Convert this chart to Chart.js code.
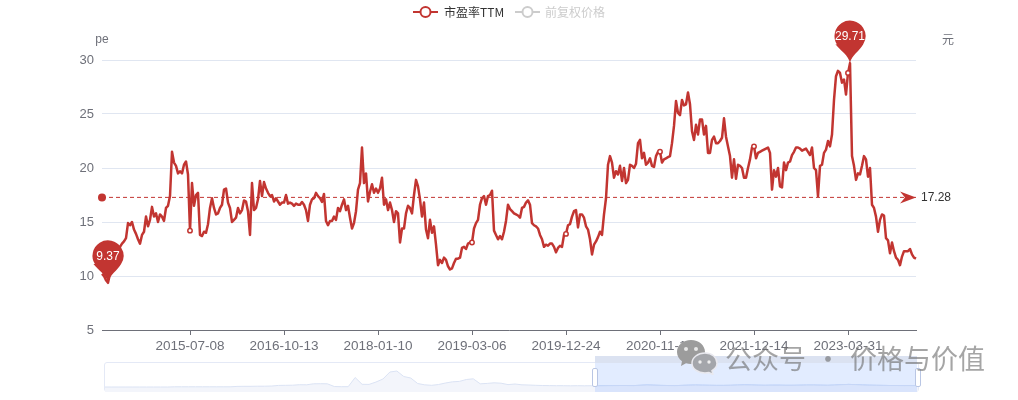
<!DOCTYPE html>
<html><head><meta charset="utf-8">
<style>
html,body{margin:0;padding:0;background:#fff;width:1018px;height:400px;overflow:hidden}
#wrap{position:relative;width:1018px;height:400px}
#main{position:absolute;left:0;top:0}
#frame{position:absolute;left:105px;top:363px;width:813px;height:28px;border:1.5px solid #e4e9f6;border-radius:3px;box-sizing:content-box;margin:-1px 0 0 -1px}
#mini{position:absolute;left:105px;top:363px}
#selBar{position:absolute;left:595px;top:356px;width:322px;height:7px;background:#dbe2f1}
#sel{position:absolute;left:595px;top:363px;width:322px;height:29px;background:rgba(135,175,255,.24)}
.h{position:absolute;top:368px;width:6px;height:19px;background:#fff;border:1.2px solid #b9c6e4;border-radius:2px;box-sizing:border-box}
#wmText{position:absolute;left:725px;top:339px;font:27px/38px "Noto Sans CJK SC",sans-serif;color:rgba(110,110,110,.62);white-space:pre;word-spacing:2.5px}
#wmIcon{position:absolute;left:676px;top:339px}
</style></head>
<body><div id="wrap">
<canvas id="main" width="1018" height="400"></canvas>
<div id="frame"></div>
<canvas id="mini" width="813" height="29"></canvas>
<div id="selBar"></div><div id="sel"></div>
<div class="h" style="left:592px"></div><div class="h" style="left:915px"></div>
<svg id="wmIcon" width="44" height="36" viewBox="0 0 44 36">
<path d="M15 1C7 1 1 6.500 1 13c0 4 2 7 5 9.200L5 27l5-2.700c1.600.5 3.300.7 5 .7 8 0 14-5.500 14-12S23 1 15 1z" fill="#9c9c9c"/>
<circle cx="10" cy="10" r="2" fill="#e8e8e8"/><circle cx="20" cy="10" r="2" fill="#e8e8e8"/>
<path d="M29 14c-7.200 0-13 4.600-13 10.200S21.800 34 29 34c1.400 0 2.800-.2 4-.5l4 2-1-3.800c3-1.900 5-4.500 5-7.500C41 18.600 36.200 14 29 14z" fill="#a4a6ab" stroke="#e9e9ef" stroke-width="1.500"/>
<circle cx="24" cy="23" r="1.700" fill="#eee"/><circle cx="33" cy="23" r="1.700" fill="#eee"/>
</svg>
<div id="wmText">公众号 · 价格与价值</div>
</div>
<script src="https://cdn.jsdelivr.net/npm/chart.js@4"></script>
<script>
const tickLabels=['2015-07-08','2016-10-13','2018-01-10','2019-03-06','2019-12-24','2020-11-12','2021-12-14','2023-03-31'];
const tickPositions=[44,91,138,185,232,279,326,373];
const circleMarks=[44,185,232,279,326,373];
const yTicks=[5,10,15,20,25,30];
const seriesNames=['市盈率TTM','前复权价格'];
const avgName='平均值';
const avgValue=17.28;
const peValues=[
10.2,10.0,9.6,9.37,10.2,10.8,11.4,11.9,12.3,12.7,
13.0,13.2,13.5,14.9,14.7,15.0,14.3,13.9,13.4,13.0,
13.8,14.1,15.5,14.6,15.2,16.4,15.5,15.8,15.0,15.7,
15.5,15.1,16.3,16.5,17.4,21.5,20.5,20.2,19.5,19.7,
19.5,20.3,20.6,19.4,14.2,18.6,16.5,17.5,17.7,13.8,
13.7,14.1,14.0,14.8,16.3,17.2,16.3,15.7,15.8,16.3,
16.6,18.0,18.1,16.8,16.3,15.0,15.2,15.4,16.3,15.8,
16.1,17.0,16.9,16.0,13.8,18.6,16.1,16.3,17.1,18.8,
17.4,18.7,18.1,17.7,17.4,17.5,16.9,17.2,16.9,16.6,
16.8,16.8,17.5,16.7,16.8,16.7,16.5,16.7,16.6,16.6,
16.85,16.6,16.1,15.1,16.6,17.1,17.2,17.7,17.4,17.2,
16.85,17.6,15.1,14.7,15.1,15.1,15.5,15.2,16.3,16.0,
16.6,17.1,16.1,16.5,15.4,14.4,14.9,16.0,18.0,18.6,
21.9,18.6,19.5,16.9,17.8,18.5,17.7,18.1,17.7,18.1,
19.1,16.6,17.1,16.1,16.8,16.1,15.0,16.0,15.8,13.1,
14.4,14.4,15.8,16.5,16.3,15.8,17.5,18.9,18.3,17.1,
15.5,16.8,14.3,13.5,15.2,14.0,14.6,12.9,11.0,11.5,
11.2,11.7,11.5,10.9,10.6,10.7,11.2,11.6,11.6,11.7,
12.6,12.7,12.5,13.0,13.1,13.1,14.4,14.9,15.2,16.6,
17.2,17.4,16.6,17.4,17.5,17.9,14.2,13.8,13.4,13.7,
13.4,14.1,15.1,16.6,16.2,16.0,15.8,15.7,15.6,15.4,
16.3,16.4,16.8,17.0,16.6,14.9,14.7,14.6,14.4,13.8,
13.4,12.7,12.9,12.8,13.0,13.0,12.7,12.2,12.6,12.8,
12.7,13.8,13.9,14.7,14.8,15.5,16.0,16.1,14.5,15.7,
15.7,15.4,14.6,14.3,13.4,12.0,12.9,13.2,13.6,14.1,
13.8,15.7,17.2,20.3,21.1,20.5,19.1,19.7,19.4,20.2,
18.8,20.0,18.6,18.9,20.3,20.2,20.0,20.4,22.3,22.6,
20.9,21.4,20.3,20.5,20.9,20.2,20.1,21.1,21.5,21.5,
20.5,20.8,20.9,21.0,21.1,22.3,23.9,26.2,25.1,24.9,
26.3,25.8,25.9,27.0,25.9,23.4,22.6,24.0,23.1,24.5,
24.5,23.1,23.9,21.4,21.4,22.6,22.9,22.3,22.3,22.5,
22.8,24.6,22.9,22.0,21.1,19.1,20.8,19.0,20.3,20.2,
20.0,19.1,19.1,20.0,20.8,21.9,22.0,20.9,21.4,21.5,
21.6,21.7,21.8,21.9,21.4,18.0,19.8,19.2,20.0,18.3,
18.2,20.5,19.8,20.5,20.6,21.2,21.5,21.9,21.9,21.8,
21.6,21.7,21.8,21.5,21.2,21.9,20.0,19.8,17.4,20.2,
20.3,21.4,21.7,22.5,22.0,23.1,26.3,28.5,29.0,28.8,
27.9,28.2,26.8,28.8,29.71,21.1,20.2,18.9,19.5,19.4,
20.2,21.1,20.8,19.2,20.0,16.6,16.3,15.5,14.1,15.2,
15.7,15.6,13.5,13.3,12.1,13.1,12.3,11.7,11.5,11.0,
11.8,12.3,12.3,12.3,12.5,12.0,11.7,11.6];
const overviewValues=[
5,5,5,5,5,5,5,5,5,5,
5.2,5.2,5.2,5.2,5.2,5.2,5.2,5.2,5.2,5.6,
5.7,5.7,5.8,5.8,6,6.6,6.7,6.8,7.3,7.2,
8.2,8.3,8.2,5.5,5.3,5.3,14.5,7.7,7.6,10,
13,20,21,15.5,14,8.5,7.2,6.7,7.5,9,
10.2,10.6,12.5,13.2,8.2,8.6,9.2,8.8,7.4,8,
7.2,7,6.7,6.5,6.4,6.3,6.3,6.2,6.3,6.2,
6.3,6.2,6.3,6.4,6.5,6.5,6.4,6.7,7,6.8,
6.6,6.5,6.4,6.6,6.8,6.9,6.8,6.7,6.6,6.6,
6.7,6.9,7.1,7,6.8,6.7,6.8,6.8,6.7,6.7,
6.8,6.9,6.9,6.8,6.7,6.9,7.3,7.6,7.4,7,
6.8,6.7,6.6,6.5,6.5,6.4,6.4,6.3];
const overviewSelectionStart=71;

const RED='#c23531', TXT='#6E7079', GRID='#E0E6F1';
const LAT='"Liberation Sans",Arial,sans-serif', CJK='"Noto Sans CJK SC","Liberation Sans",sans-serif';
const categories=peValues.map(()=>'');
tickPositions.forEach((p,i)=>{categories[p]=tickLabels[i];});
const circleSet=new Set(circleMarks);

function pin(ctx,x,tipY,text){
  const r=15.5, cy=tipY-27;
  ctx.save();ctx.fillStyle=RED;ctx.beginPath();
  ctx.arc(x,cy,r,Math.PI*0.82,Math.PI*0.18);
  ctx.bezierCurveTo(x+r*0.62,cy+r*0.95,x+1.5,tipY-8,x,tipY);
  ctx.bezierCurveTo(x-1.5,tipY-8,x-r*0.62,cy+r*0.95,x-r*0.94,cy+r*0.53);
  ctx.closePath();ctx.fill();
  ctx.fillStyle='#fff';ctx.font='12px '+LAT;ctx.textAlign='center';ctx.textBaseline='middle';
  ctx.fillText(text,x,cy+1);ctx.restore();
}
function legendIcon(ctx,x,y,color){
  ctx.save();ctx.strokeStyle=color;ctx.lineWidth=2;
  ctx.beginPath();ctx.moveTo(x,y);ctx.lineTo(x+25,y);ctx.stroke();
  ctx.fillStyle='#fff';ctx.beginPath();ctx.arc(x+12.5,y,5,0,Math.PI*2);ctx.fill();ctx.stroke();ctx.restore();
}
const overlay={id:'overlay',afterDatasetsDraw(chart){
  const ctx=chart.ctx,xs=chart.scales.x,ys=chart.scales.y;
  const yAvg=ys.getPixelForValue(avgValue);
  const L=xs.getPixelForValue(0),R=xs.getPixelForValue(peValues.length-1);
  ctx.save();ctx.fillStyle=RED;
  ctx.beginPath();ctx.arc(L,yAvg,4,0,Math.PI*2);ctx.fill();
  ctx.beginPath();ctx.moveTo(R,yAvg);ctx.lineTo(R-16,yAvg-6);ctx.lineTo(R-11,yAvg);ctx.lineTo(R-16,yAvg+6);ctx.closePath();ctx.fill();
  ctx.fillStyle='#333';ctx.font='12px '+LAT;ctx.textAlign='left';ctx.textBaseline='middle';
  ctx.fillText(avgValue.toFixed(2),R+5,yAvg);
  ctx.fillStyle=TXT;ctx.textAlign='center';
  ctx.fillText('pe',L,40);
  ctx.font='12px '+CJK;ctx.fillText('元',948,39.500);
  legendIcon(ctx,413,12,RED);
  ctx.fillStyle='#333';ctx.textAlign='left';ctx.fillText(seriesNames[0],444,12);
  legendIcon(ctx,515,12,'#ccc');
  ctx.fillStyle='#ccc';ctx.fillText(seriesNames[1],545,12);
  ctx.restore();
  const maxV=Math.max(...peValues),minV=Math.min(...peValues);
  pin(ctx,xs.getPixelForValue(peValues.indexOf(minV)),ys.getPixelForValue(minV),minV.toFixed(2));
  pin(ctx,xs.getPixelForValue(peValues.indexOf(maxV)),ys.getPixelForValue(maxV),maxV.toFixed(2));
}};
new Chart(document.getElementById('main'),{
  type:'line',
  data:{labels:categories,datasets:[
    {label:seriesNames[0],data:peValues,borderColor:RED,borderWidth:2.5,tension:0,borderJoinStyle:'round',
     pointRadius:c=>circleSet.has(c.dataIndex)?2.2:0,pointBackgroundColor:'#fff',pointBorderColor:RED,pointBorderWidth:1.5,order:1},
    {label:avgName,data:peValues.map(()=>avgValue),borderColor:RED,borderWidth:1,borderDash:[4,3],pointRadius:0,order:2},
    {label:seriesNames[1],data:[],hidden:true,yAxisID:'y1'}
  ]},
  plugins:[overlay],
  options:{responsive:false,animation:false,events:[],
    layout:{padding:{left:0,right:102,top:60,bottom:40}},
    plugins:{legend:{display:false},tooltip:{enabled:false}},
    scales:{
      x:{type:'category',offset:false,
        afterBuildTicks(s){s.ticks=tickPositions.map(v=>({value:v}));},
        afterFit(s){s.height=30;},
        ticks:{autoSkip:false,maxRotation:0,padding:3,color:TXT,font:{family:LAT,size:13.5},
          callback(v){return categories[v];}},
        grid:{drawOnChartArea:false,drawTicks:true,tickLength:5,color:TXT},
        border:{color:TXT,width:1}},
      y:{min:5,max:30,
        afterBuildTicks(s){s.ticks=yTicks.map(v=>({value:v}));},
        afterFit(s){s.width=102;},
        ticks:{padding:8,color:TXT,font:{family:LAT,size:13}},
        grid:{color:GRID,drawTicks:false,lineWidth:1},
        border:{display:false}},
      y1:{display:false,position:'right'}
    }}
});
new Chart(document.getElementById('mini'),{
  type:'line',
  data:{labels:overviewValues.map(()=>''),datasets:[
    {data:overviewValues,borderColor:'#dbe3f4',borderWidth:1,fill:'origin',backgroundColor:'#f3f5fb',pointRadius:0,tension:0},
    {data:overviewValues.map((v,i)=>i>=overviewSelectionStart?v:null),borderColor:'#b5cdf8',borderWidth:1,fill:'origin',backgroundColor:'#cfdffb',pointRadius:0,tension:0}
  ]},
  options:{responsive:false,animation:false,events:[],layout:{padding:0},
    plugins:{legend:{display:false},tooltip:{enabled:false}},
    scales:{x:{display:false,offset:false},y:{display:false,min:0,max:29}}}
});
</script></body></html>
